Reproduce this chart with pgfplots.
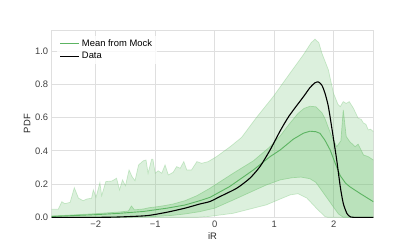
\documentclass[border=0pt]{standalone}
\usepackage{pgfplots}
\pgfplotsset{compat=1.18}
\usepgfplotslibrary{fillbetween}
\usepackage{fontspec}
\setmainfont{Liberation Sans}
\definecolor{gridc}{RGB}{223,223,223}
\definecolor{gbase}{RGB}{116,196,118}
\definecolor{meanc}{RGB}{92,180,98}
\begin{document}
\begin{tikzpicture}
\begin{axis}[
  scale only axis,
  width=321.6bp, height=187.3bp,
  xmin=-2.74, xmax=2.665, ymin=0, ymax=1.127,
  xtick={-2,-1,0,1,2},
  xticklabels={−2,−1,0,1,2},
  ytick={0,0.2,0.4,0.6,0.8,1.0},
  yticklabels={0.0,0.2,0.4,0.6,0.8,1.0},
  major tick length=0pt,
  grid=major,
  grid style={draw=gridc, line width=0.8bp},
  axis line style={draw=gridc, line width=0.8bp},
  tick label style={font=\fontsize{9.4bp}{11bp}\selectfont, text=black!75},
  label style={font=\fontsize{9.4bp}{11bp}\selectfont, text=black!85},
  xlabel={iR}, ylabel={PDF},
  xlabel style={at={(axis description cs:0.5,-0.1)}, anchor=center},
  ylabel style={at={(axis description cs:-0.076,0.5)}, anchor=center, rotate=0},
  legend cell align=left,
  legend style={draw=none, fill=white, fill opacity=0.8, text opacity=1,
    at={(0,1)}, anchor=north west, xshift=5bp, yshift=-5.5bp,
    font=\fontsize{9.4bp}{11bp}\selectfont, row sep=0.4bp},
  legend image code/.code={\draw[#1] (0bp,0bp) -- (19bp,0bp);},
]
% outer band
\addplot[name path=ou, draw=gbase, draw opacity=0.35, line width=0.7bp, forget plot] coordinates {
(-2.74,0.048)(-2.63,0.048)(-2.57,0.094)(-2.52,0.082)(-2.43,0.09)(-2.36,0.178)(-2.29,0.115)
(-2.21,0.10)(-2.15,0.11)(-2.07,0.115)(-2.04,0.165)(-1.995,0.12)(-1.93,0.208)(-1.90,0.13)
(-1.83,0.215)(-1.73,0.218)(-1.65,0.235)(-1.60,0.165)(-1.55,0.225)(-1.50,0.19)(-1.44,0.285)
(-1.39,0.245)(-1.34,0.22)(-1.28,0.315)(-1.20,0.34)(-1.155,0.345)(-1.12,0.265)(-1.06,0.35)
(-1.04,0.35)(-1.0,0.265)(-0.95,0.28)(-0.89,0.265)(-0.835,0.315)(-0.78,0.255)(-0.70,0.27)
(-0.64,0.305)(-0.58,0.295)(-0.52,0.335)(-0.47,0.285)(-0.39,0.285)(-0.30,0.335)(-0.22,0.325)
(-0.11,0.335)(0.03,0.365)(0.26,0.425)(0.45,0.48)(0.70,0.60)(0.985,0.727)(1.265,0.867)
(1.49,0.978)(1.62,1.05)(1.685,1.072)(1.75,1.05)(1.80,0.988)(1.91,0.887)(1.995,0.747)
(2.07,0.68)(2.11,0.666)(2.16,0.696)(2.21,0.685)(2.26,0.696)(2.33,0.657)(2.41,0.596)
(2.46,0.59)(2.50,0.567)(2.54,0.56)(2.58,0.526)(2.62,0.53)(2.665,0.516)};
\addplot[name path=ol, draw=gbase, draw opacity=0.35, line width=0.7bp, forget plot] coordinates {
(-2.74,0)(-0.3,0)(-0.1,0.005)(0.31,0.024)(0.87,0.075)(1.1,0.11)(1.27,0.135)(1.4,0.142)
(1.55,0.115)(1.71,0.054)(1.85,0.005)(1.9,0)(2.665,0)};
\addplot[fill=gbase, fill opacity=0.25, draw=none, forget plot] fill between[of=ou and ol];
% inner band
\addplot[name path=iu, draw=gbase, draw opacity=0.5, line width=0.7bp, forget plot] coordinates {
(-2.74,0.008)(-2.5,0.012)(-2.2,0.018)(-2.0,0.022)(-1.8,0.027)(-1.6,0.032)(-1.45,0.038)
(-1.40,0.068)(-1.35,0.045)(-1.2,0.05)(-1.1,0.058)(-1.0,0.062)(-0.85,0.07)(-0.7,0.08)
(-0.5,0.1)(-0.3,0.13)(-0.08,0.175)(0.31,0.265)(0.65,0.34)(0.93,0.425)(1.1,0.49)(1.25,0.56)
(1.4,0.625)(1.5,0.655)(1.6,0.668)(1.7,0.665)(1.8,0.63)(1.85,0.596)(1.966,0.486)(2.05,0.425)
(2.12,0.46)(2.16,0.646)(2.21,0.486)(2.27,0.455)(2.36,0.425)(2.41,0.44)(2.50,0.375)
(2.58,0.365)(2.665,0.345)};
\addplot[name path=il, draw=gbase, draw opacity=0.5, line width=0.7bp, forget plot] coordinates {
(-2.74,0)(-1.5,0.001)(-1.0,0.005)(-0.7,0.012)(-0.5,0.02)(-0.25,0.034)(0.0,0.055)(0.31,0.104)
(0.87,0.195)(1.1,0.225)(1.3,0.238)(1.45,0.242)(1.6,0.232)(1.7,0.21)(1.83,0.145)(1.93,0.095)
(1.99,0.064)(2.08,0.02)(2.16,0)(2.665,0)};
\addplot[fill=gbase, fill opacity=0.33, draw=none, forget plot] fill between[of=iu and il];
% mean
\addplot[meanc, line width=0.9bp] coordinates {
(-2.74,0.005)(-2.4,0.01)(-2.0,0.016)(-1.6,0.024)(-1.2,0.035)(-0.8,0.055)(-0.5,0.074)
(-0.25,0.1)(-0.08,0.12)(0.25,0.185)(0.65,0.285)(0.93,0.365)(1.1,0.405)(1.32,0.47)
(1.49,0.506)(1.6,0.518)(1.7,0.515)(1.77,0.505)(1.85,0.465)(1.94,0.405)(2.03,0.32)
(2.11,0.25)(2.2,0.205)(2.27,0.184)(2.44,0.144)(2.665,0.094)};
\addlegendentry{Mean from Mock}
% data
\addplot[black, line width=1.1bp, smooth, tension=0.4] coordinates {
(-2.74,0)(-1.9,0)(-1.6,0.002)(-1.14,0.01)(-0.81,0.03)(-0.5,0.055)(-0.25,0.08)(-0.08,0.095)
(0.09,0.125)(0.37,0.175)(0.59,0.235)(0.76,0.305)(0.93,0.405)(1.1,0.52)(1.25,0.61)
(1.5,0.73)(1.6,0.78)(1.68,0.808)(1.74,0.815)(1.8,0.795)(1.85,0.75)(1.91,0.666)(1.99,0.486)
(2.05,0.345)(2.11,0.184)(2.16,0.084)(2.22,0.024)(2.27,0.005)(2.33,0)(2.665,0)};
\addlegendentry{Data}
\end{axis}
\pgfresetboundingbox
\path ([shift={(-51.7bp,-31.7bp)}]current axis.south west) rectangle ([shift={(41.7bp,30bp)}]current axis.north east);
\end{tikzpicture}
\end{document}
